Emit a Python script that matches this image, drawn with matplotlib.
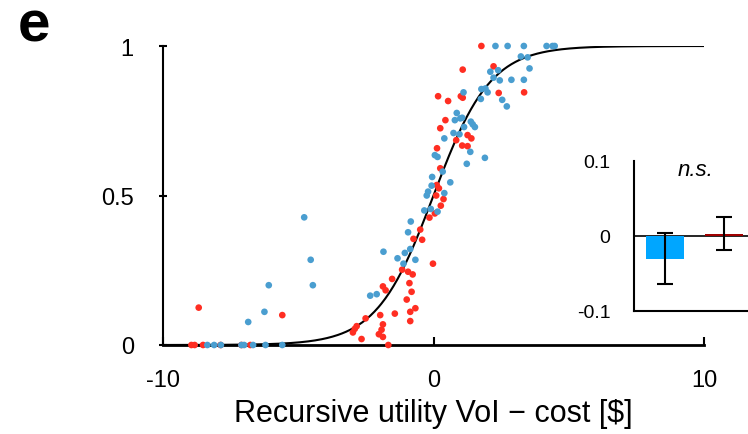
import numpy as np
import matplotlib
matplotlib.use("Agg")
import matplotlib.pyplot as plt

plt.rcParams['font.family'] = ['Liberation Sans', 'DejaVu Sans']
plt.rcParams['axes.unicode_minus'] = False

# ---- data ----
blue_x = [-8.36, -8.11, -7.86, -7.10, -7.00, -6.67, -6.21, -5.59,
          -4.78, -4.54, -4.46, -6.09, -6.25, -6.85, -2.34, -2.10,
          -1.85, -1.33, -1.06, -1.11, -0.67, -0.86, -0.94, -0.84,
          -0.34, -0.10, 0.15, -0.25, -0.20, 0.40, -0.07, 0.62, -0.05, 0.34,
          1.23, 0.05, 0.15, 1.90, 1.36,
          0.40, 0.74, 0.96, 1.13, 1.38, 1.45, 1.53, 0.79, 0.99, 1.06, 0.86,
          1.75, 2.54, 2.71, 1.11, 1.77, 1.92, 2.00, 2.22, 2.45, 2.88, 3.34,
          2.10, 2.39, 3.55, 3.23, 3.48,
          2.29, 2.74, 3.34, 4.18, 4.40, 4.48]
blue_y = [0, 0, 0, 0, 0, 0, 0, 0,
          0.427, 0.285, 0.200, 0.200, 0.111, 0.077, 0.165, 0.170,
          0.312, 0.290, 0.308, 0.272, 0.285, 0.321, 0.377, 0.413,
          0.450, 0.455, 0.446, 0.500, 0.513, 0.508, 0.533, 0.544, 0.562, 0.580,
          0.606, 0.635, 0.629, 0.626, 0.646,
          0.691, 0.709, 0.705, 0.729, 0.747, 0.738, 0.729, 0.752, 0.758, 0.760, 0.776,
          0.823, 0.820, 0.798, 0.845, 0.856, 0.858, 0.845, 0.894, 0.885, 0.887, 0.887,
          0.914, 0.919, 0.925, 0.965, 0.962,
          1, 1, 1, 1, 1, 1]

red_x = [-8.95, -8.83, -8.52, -7.87, -7.10, -6.77, -8.68, -5.59,
         -0.02, -1.16, -0.94, -0.77, -1.53, -0.89, -1.87, -1.77, -0.81, -0.99,
         -0.67, -0.86, -1.43, -1.97, -2.51, -0.86, -2.84, -1.87, -2.91, -2.98,
         -1.92, -2.02, -1.87, -2.66, -1.67,
         -0.49, -0.74, -0.42, -0.15, 0.05, 0.27, 0.37, 0.10, 0.20, 0.12, 0.25, 0.13,
         0.25, 0.44, 0.84, 1.06, 1.26, 1.26, 1.40, 0.17, 0.54, 1.01, 1.08,
         1.08, 2.22, 2.41, 3.35, 1.77]
red_y = [0, 0, 0, 0, 0, 0, 0.125, 0.100,
         0.272, 0.252, 0.245, 0.236, 0.221, 0.207, 0.196, 0.183, 0.178, 0.152,
         0.123, 0.111, 0.105, 0.100, 0.089, 0.080, 0.063, 0.069, 0.054, 0.042,
         0.051, 0.036, 0.027, 0.020, 0.0,
         0.386, 0.355, 0.352, 0.426, 0.440, 0.466, 0.488, 0.500, 0.524, 0.535, 0.591, 0.658,
         0.725, 0.752, 0.685, 0.667, 0.665, 0.702, 0.691, 0.832, 0.816, 0.832, 0.827,
         0.921, 0.932, 0.843, 0.845, 1.0]

fit_slope = 0.95

inset_vals = [-0.030, 0.003]
inset_errs = [0.034, 0.022]
inset_colors = ['#00A6FF', '#A00000']

xticks = [-10, 0, 10]
yticks = [0, 0.5, 1]
ytick_labels = ['0', '0.5', '1']
inset_yticks = [-0.1, 0, 0.1]
inset_ylabels = ['-0.1', '0', '0.1']

# ---- figure ----
fig = plt.figure(figsize=(7.48, 4.35), dpi=100)
ax = fig.add_axes([163/748, 89/435, 541/748, 299/435])

xs = np.linspace(-10, 10, 400)
ax.plot(xs, 1/(1+np.exp(-fit_slope*xs)), color='black', lw=1.5, zorder=2)
ax.scatter(red_x, red_y, s=23, color='#FF2E22', edgecolors='none', zorder=3, clip_on=False)
ax.scatter(blue_x, blue_y, s=23, color='#4A9ED0', edgecolors='none', zorder=3, clip_on=False)

ax.set_xlim(-10, 10)
ax.set_ylim(0, 1)
ax.set_xticks(xticks)
ax.set_xticklabels([str(v) for v in xticks])
ax.set_yticks(yticks)
ax.set_yticklabels(ytick_labels)
for s in ['top', 'right']:
    ax.spines[s].set_visible(False)
ax.spines['bottom'].set_linewidth(2)
ax.spines['left'].set_linewidth(1.5)
ax.tick_params(axis='x', direction='in', length=6, width=1.5, labelsize=17, pad=17)
ax.tick_params(axis='y', direction='inout', length=6, width=1.5, labelsize=17, pad=18)
ax.set_xlabel('Recursive utility VoI \u2212 cost [$]', fontsize=22, labelpad=5)

fig.text(18/748, 1 - 42/435, 'e', fontsize=42, fontweight='bold', ha='left', va='baseline')

# ---- inset ----
axi = fig.add_axes([634/748, 123/435, 149/748, 150/435])
axi.bar([0, 1], inset_vals, width=0.64, color=inset_colors, zorder=2)
axi.errorbar([0, 1], inset_vals, yerr=inset_errs, fmt='none', ecolor='black',
             elinewidth=1.5, capsize=6, capthick=1.5, zorder=3)
axi.axhline(0, color='black', lw=1.2, zorder=1)
axi.set_xlim(-0.525, 2.0)
axi.set_ylim(-0.1, 0.1)
axi.set_xticks([])
axi.set_yticks(inset_yticks)
axi.set_yticklabels(inset_ylabels)
axi.tick_params(axis='y', length=0, labelsize=14, pad=17)
for s in ['top', 'right']:
    axi.spines[s].set_visible(False)
axi.spines['left'].set_linewidth(1.5)
axi.spines['bottom'].set_linewidth(1.5)
axi.text(0.41, 0.94, 'n.s.', transform=axi.transAxes, fontsize=16, style='italic',
         ha='center', va='center')

fig.savefig('out.png', dpi=100)
